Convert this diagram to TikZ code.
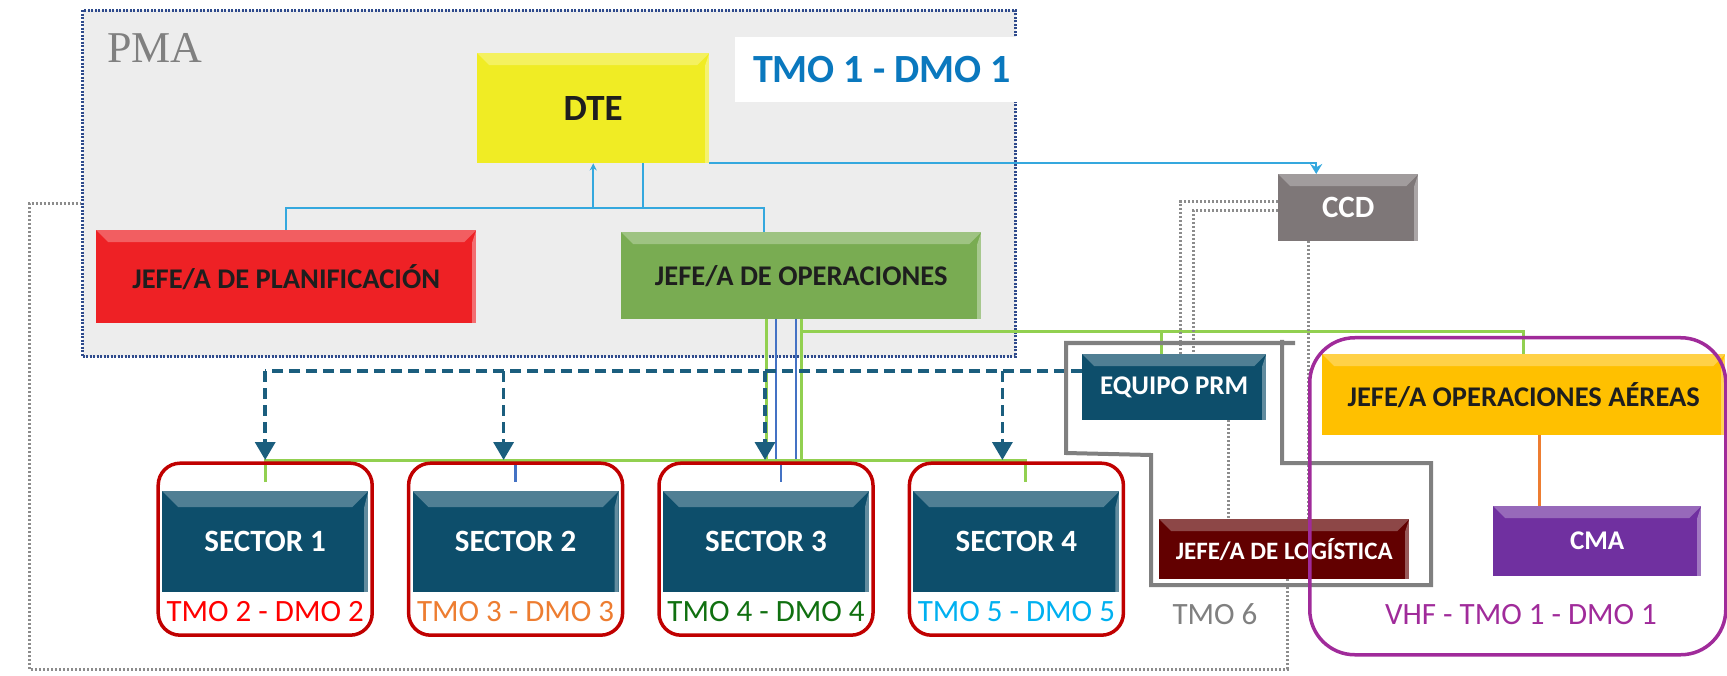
\documentclass[tikz,border=0pt]{standalone}
\usepackage{fontspec}
\setmainfont{Carlito}
\newfontfamily\pmafont{Liberation Serif}
\usepackage{tikz}
\usetikzlibrary{arrows.meta,positioning,backgrounds}
\definecolor{pmagrey}{HTML}{EDEDED}
\definecolor{pmanavy}{HTML}{2E4A8C}
\definecolor{tmoblue}{HTML}{0A78BE}
\definecolor{dteyellow}{HTML}{F0EC24}
\definecolor{planred}{HTML}{EE2125}
\definecolor{opgreen}{HTML}{79AC52}
\definecolor{ccdgrey}{HTML}{7E7778}
\definecolor{sectorteal}{HTML}{0D4E6B}
\definecolor{aerorange}{HTML}{FFC000}
\definecolor{cmapurple}{HTML}{7030A0}
\definecolor{logred}{HTML}{620000}
\definecolor{framered}{HTML}{C00000}
\definecolor{vhfpurple}{HTML}{A02B9A}
\definecolor{linkblue}{HTML}{35A8DE}
\definecolor{opblue}{HTML}{4472C4}
\definecolor{opgreenline}{HTML}{92D050}
\definecolor{dashnavy}{HTML}{1B5E7E}
\definecolor{cmaorange}{HTML}{ED7D31}
\definecolor{dotgrey}{HTML}{8C8C8C}
\definecolor{polygrey}{HTML}{808080}
\definecolor{boxtext}{HTML}{1E1E1E}
\definecolor{tmored}{HTML}{FF0000}
\definecolor{tmoorange}{HTML}{ED7D31}
\definecolor{tmogreen}{HTML}{107010}
\definecolor{tmocyan}{HTML}{00B0F0}
\newcommand\boxfont[1]{\bfseries\fontsize{#1}{#1}\selectfont}
\tikzset{
  bevel/.style    = {path picture={
      \fill[white, opacity=0.28] (path picture bounding box.north west)
        -- (path picture bounding box.north east)
        -- ([xshift=-#1, yshift=-#1]path picture bounding box.north east)
        -- ([xshift=#1, yshift=-#1]path picture bounding box.north west) -- cycle;
      \fill[white, opacity=0.35] (path picture bounding box.north east)
        -- (path picture bounding box.south east)
        -- ([xshift=-4pt]path picture bounding box.south east)
        -- ([xshift=-4pt, yshift=-#1]path picture bounding box.north east) -- cycle;}},
  bevel/.default  = 12pt,
  box/.style      = {rectangle, anchor=north west, inner sep=0pt, align=center, bevel},
  darkbox/.style  = {box, fill=#1, text=white},
  lightbox/.style = {box, fill=#1, text=boxtext},
  sector/.style   = {darkbox=sectorteal, bevel=16pt, minimum width=206pt,
                     minimum height=101pt, font=\boxfont{31}},
  frame/.style    = {draw=framered, line width=3.5pt, rounded corners=22pt,
                     minimum width=214pt, minimum height=172pt},
  lbl/.style      = {font=\fontsize{31}{31}\selectfont, inner sep=2pt},
}
\begin{document}
\begin{tikzpicture}[x=1pt, y=-1pt,
  lblue/.style   = {draw=linkblue, line width=2pt},
  gline/.style   = {draw=opgreenline, line width=3pt},
  bline/.style   = {draw=opblue, line width=2.5pt},
  dline/.style   = {draw=dashnavy, line width=3.5pt, dash pattern=on 11pt off 6pt},
  dotline/.style = {draw=dotgrey, line width=3pt, dash pattern=on 2pt off 2pt},
  darr/.style    = {-{Triangle[width=20pt,length=18pt]}}]
\useasboundingbox (0,0) rectangle (1727,676);
% PMA area
\begin{scope}[on background layer]
\node[anchor=north west, fill=pmagrey, draw=pmanavy, line width=3pt,
      dash pattern=on 2pt off 1.5pt, minimum width=933pt, minimum height=346pt]
      (pma) at (81,9) {};
\end{scope}
\node[anchor=west, inner sep=0pt, text=gray, font=\pmafont\fontsize{44}{44}\selectfont]
      (pmalbl) at (107,48) {PMA};
\node[anchor=north west, fill=white, minimum width=282pt, minimum height=65pt]
      (tmobox) at (735,37) {};
\node[text=tmoblue, font=\boxfont{40}] (tmo1) at (882,70) {TMO 1 - DMO 1};
% boxes
\node[lightbox=dteyellow, minimum width=232pt, minimum height=110pt, font=\boxfont{37}]
      (dte) at (477,53) {DTE};
\node[lightbox=planred, minimum width=380pt, minimum height=93pt, font=\boxfont{28.5}]
      (plan) at (96,230) {JEFE/A DE PLANIFICACIÓN};
\node[lightbox=opgreen, minimum width=360pt, minimum height=87pt, font=\boxfont{28.5}]
      (oper) at (621,232) {JEFE/A DE OPERACIONES};
\node[darkbox=ccdgrey, minimum width=140pt, minimum height=67pt, font=\boxfont{31}]
      (ccd) at (1278,174) {CCD};
\node[darkbox=sectorteal, minimum width=184pt, minimum height=66pt, font=\boxfont{27}]
      (prm) at (1082,354) {EQUIPO PRM};
\node[lightbox=aerorange, minimum width=403pt, minimum height=81pt, font=\boxfont{28.5}]
      (aer) at (1322,354) {JEFE/A OPERACIONES AÉREAS};
\node[darkbox=cmapurple, minimum width=208pt, minimum height=70pt, font=\boxfont{27}]
      (cma) at (1493,506) {CMA};
\node[darkbox=logred, minimum width=250pt, minimum height=60pt, font=\boxfont{25}]
      (log) at (1159,519) {JEFE/A DE LOGÍSTICA};
\node[sector] (sec1) at (162,491) {SECTOR 1};
\node[sector, right=44pt of sec1] (sec2) {SECTOR 2};
\node[sector, right=44pt of sec2] (sec3) {SECTOR 3};
\node[sector, right=44pt of sec3] (sec4) {SECTOR 4};
% connectors
\coordinate (bluebus) at (0,208);
\coordinate (gbus) at (0,460);
\coordinate (dbus) at (0,371);
\coordinate (loopc) at (29,669);
\begin{scope}[on background layer]
\draw[lblue] ([xshift=50pt]dte.south) |- (bluebus -| plan.north) -- (plan.north);
\draw[lblue, -{Stealth[length=7pt,width=7pt]}] ([xshift=-37pt]oper.north)
      |- (bluebus -| dte.south) -- (dte.south);
\draw[lblue, -{Stealth[length=10pt,width=12pt]}] (dte.south east) -| ([xshift=-32pt]ccd.north);
\draw[bline] ([xshift=-25pt]oper.south) |- (sec2.north |- gbus) -- ([yshift=9pt]sec2.north);
\draw[bline] ([xshift=-25pt]oper.south |- gbus) -| ([xshift=-5pt]oper.south);
\draw[bline] ([xshift=15pt]sec3.north |- gbus) -- ([xshift=15pt,yshift=9pt]sec3.north);
\draw[gline] ([xshift=-35pt]oper.south) -- ([xshift=-35pt]oper.south |- gbus);
\draw[gline] (oper.south) -- (oper.south |- gbus);
\draw[gline] ([yshift=-12pt]oper.south) -| (aer.north);
\draw[gline] ([yshift=-12pt]oper.south) -| ([xshift=-13pt]prm.north);
\draw[gline] ([yshift=9pt]sec1.north) |- ([xshift=9pt]sec4.north |- gbus)
      -- ([xshift=9pt,yshift=9pt]sec4.north);
\draw[dline] (prm.west |- dbus) -- (sec1.north |- dbus);
\foreach \s/\dx in {sec1/0,sec2/-12,sec3/-1,sec4/-14}
  \draw[dline, darr] ([xshift=\dx pt]\s.north |- dbus) -- ([xshift=\dx pt]\s.north |- gbus);
\draw[dotline] ([yshift=6pt]ccd.west) -| ([xshift=6pt]prm.north);
\draw[dotline] ([yshift=-3pt]ccd.west) -| ([xshift=19pt]prm.north);
\draw[dotline] ([xshift=-40pt]ccd.south) -- ([xshift=-40pt]ccd.south |- log.north);
\draw[dotline] ([xshift=54pt]prm.south) -- ([xshift=54pt]prm.south |- log.north);
\draw[dotline] ([xshift=3pt]log.south) |- (loopc) |- ([yshift=-20pt]pma.west);
\draw[draw=cmaorange, line width=3pt] ([xshift=16pt]aer.south) -- ([xshift=16pt]aer.south |- cma.north);
\end{scope}
% frames and labels
\foreach \s/\c/\t in {sec1/tmored/{TMO 2 - DMO 2}, sec2/tmoorange/{TMO 3 - DMO 3},
                      sec3/tmogreen/{TMO 4 - DMO 4}, sec4/tmocyan/{TMO 5 - DMO 5}} {
  \node[frame] (f\s) at ([yshift=-7.5pt]\s.center) {};
  \node[lbl, text=\c, below=7pt of \s] (l\s) {\t};
}
\draw[draw=polygrey, line width=4pt] (1295,343) -- (1066,343) -- (1066,453) -- (1151,455)
      -- (1151,585) -- (1431,585) -- (1431,463) -- (1282,463) -- (1282,340);
\node[lbl, text=gray] (tmo6) at (1215,614) {TMO 6};
\node[anchor=north west, draw=vhfpurple, line width=3.5pt, rounded corners=45pt,
      minimum width=416pt, minimum height=317pt] (vhf) at (1308,336) {};
\node[lbl, text=vhfpurple] (vhflbl) at (1521,615) {VHF - TMO 1 - DMO 1};
\end{tikzpicture}
\end{document}
